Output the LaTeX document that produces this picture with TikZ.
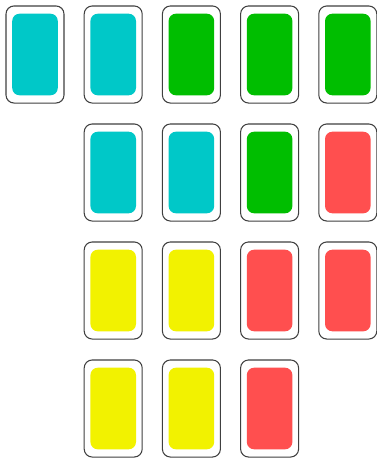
\documentclass[tikz,border=0pt]{standalone}
\begin{document}
\begin{tikzpicture}[x=0.75pt,y=-0.75pt,
  cardbox/.style={draw=black!75,line width=0.8pt,rounded corners=6pt,minimum width=43.5pt,minimum height=72.8pt,inner sep=0pt,fill=white},
  face/.style={rounded corners=5.5pt,minimum width=34.2pt,minimum height=61.2pt,inner sep=0pt,fill=#1}]
\definecolor{ccyan}{HTML}{00C8C8}
\definecolor{cgreen}{HTML}{00BE00}
\definecolor{cred}{HTML}{FF4F4F}
\definecolor{cyellow}{HTML}{F2F200}
\useasboundingbox (0,0) rectangle (376,458);
\foreach \r/\c/\col in {0/0/ccyan,0/1/ccyan,0/2/cgreen,0/3/cgreen,0/4/cgreen,
  1/1/ccyan,1/2/ccyan,1/3/cgreen,1/4/cred,
  2/1/cyellow,2/2/cyellow,2/3/cred,2/4/cred,
  3/1/cyellow,3/2/cyellow,3/3/cred}{
  \node[cardbox] (card\r\c) at ({35+78.2*\c},{54.5+118*\r}) {};
  \node[face=\col] (face\r\c) at (card\r\c.center) {};
}
\end{tikzpicture}
\end{document}
